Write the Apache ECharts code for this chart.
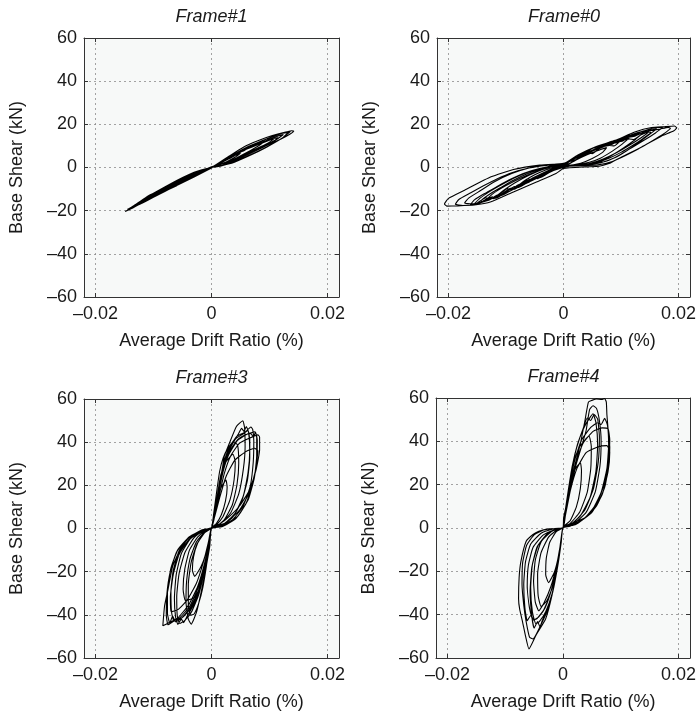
<!DOCTYPE html>
<html>
<head>
<meta charset="utf-8">
<script src="https://cdn.jsdelivr.net/npm/echarts@6/dist/echarts.min.js"></script>
<style>
html, body { margin: 0; padding: 0; background: #ffffff; }
#chart { width: 699px; height: 712px; }
</style>
</head>
<body>
<div id="chart"></div>
<script>
// Panel titles
const frameNames = ['Frame#1', 'Frame#0', 'Frame#3', 'Frame#4'];

// Tick values
const driftTicks = [-0.02, 0, 0.02];
const shearMin = -60;
const shearMax = 60;
const shearStep = 20;

// Axis titles
const driftLabel = 'Average Drift Ratio (%)';
const shearLabel = 'Base Shear (kN)';

// Hysteresis paths: [average drift ratio, base shear kN]
const frame1Loops = [
  [0,0],[0.002,2.8],[0.004,5.6],[0.005,6.6],[0.0042,5.0],[0.002,1.9],[0,0.2],
  [-0.002,-2.4],[-0.004,-5.2],[-0.0055,-7.4],[-0.0047,-5.6],[-0.0025,-2.2],[0,0],
  [0.003,4.0],[0.006,8.6],[0.0085,11.6],[0.0093,12.4],[0.0082,10.2],[0.006,6.8],[0.003,2.6],[0,0.3],
  [-0.003,-3.6],[-0.006,-8.2],[-0.009,-12.4],[-0.0102,-14.0],[-0.009,-11.6],[-0.006,-6.8],[-0.003,-2.6],[0,0],
  [0.002,3.4],[0.004,6.6],[0.0055,7.6],[0.007,10.2],[0.0085,11.0],[0.010,13.2],[0.0115,13.8],[0.0105,11.6],[0.008,8.2],[0.005,4.4],[0.002,1.0],[0,0],
  [-0.002,-1.8],[-0.004,-4.6],[-0.006,-7.0],[-0.0075,-9.8],[-0.009,-10.8],[-0.0105,-13.6],[-0.012,-15.2],[-0.0108,-13.0],[-0.008,-9.6],[-0.005,-5.8],[-0.002,-2.0],[0,0],
  [0.003,4.6],[0.006,8.9],[0.009,12.0],[0.0115,14.6],[0.0124,15.3],[0.0112,13.0],[0.008,8.6],[0.005,4.6],[0.002,1.2],[0,0.1],
  [-0.003,-3.2],[-0.006,-7.6],[-0.009,-12.3],[-0.012,-16.6],[-0.0131,-17.8],[-0.0118,-15.0],[-0.009,-10.6],[-0.006,-6.2],[-0.003,-2.4],[0,-0.1],
  [0.0025,3.6],[0.005,7.8],[0.0075,11.0],[0.010,13.8],[0.0118,15.6],[0.0132,16.2],[0.0122,13.6],[0.0095,9.4],[0.0065,5.4],[0.0035,2.0],[0,0],
  [-0.0025,-2.8],[-0.005,-6.6],[-0.0075,-10.0],[-0.010,-13.6],[-0.0125,-17.2],[-0.0138,-18.8],[-0.0128,-16.8],[-0.0105,-13.8],[-0.008,-10.2],[-0.005,-6.0],[-0.0025,-2.6],[0,0],
  [0.003,4.8],[0.006,9.3],[0.009,12.6],[0.012,15.6],[0.0138,17.0],[0.0142,16.9],[0.0135,15.4],[0.012,13.2],[0.009,9.6],[0.006,6.0],[0.003,2.6],[0,0.2],
  [-0.003,-3.0],[-0.006,-7.4],[-0.009,-12.0],[-0.012,-16.4],[-0.0142,-19.6],[-0.0149,-20.4],[-0.0143,-19.6],[-0.012,-15.8],[-0.009,-11.2],[-0.006,-6.8],[-0.003,-2.8],[0,0],
  [0.003,5.2],[0.0055,9.4],[0.008,12.4],[0.0105,14.8],[0.0128,16.4],[0.0136,16.6],[0.0125,14.2],[0.010,10.2],[0.007,6.2],[0.004,2.8],[0.0015,0.6],[0,0],
  [-0.003,-2.2],[-0.006,-6.0],[-0.009,-10.4],[-0.0115,-14.2],[-0.0135,-17.8],[-0.0145,-19.4],[-0.0138,-18.6],[-0.0115,-15.6],[-0.009,-12.2],[-0.006,-8.4],[-0.003,-4.4],[0,-0.2],
  [0.003,4.2],[0.006,8.4],[0.009,11.6],[0.0108,13.4],[0.0098,11.4],[0.007,7.8],[0.004,4.0],[0,0],
  [-0.004,-5.0],[-0.008,-10.8],[-0.0112,-14.6],[-0.0100,-12.4],[-0.007,-8.0],[-0.003,-3.0],[0,0]
];

const frame0Loops = [
  [0,0],
  [0.002,3.2],[0.004,5.8],[0.006,7.9],[0.0075,9.2],[0.0068,7.0],[0.005,4.2],[0.003,2.0],[0.001,1.0],[-0.001,0.2],[-0.003,-1.8],[-0.005,-4.4],[-0.007,-7.4],[-0.0078,-8.6],[-0.0068,-6.2],[-0.005,-3.4],[-0.003,-1.0],[-0.001,0.6],[0.001,1.8],
  [0.003,4.8],[0.005,7.6],[0.0065,9.0],[0.008,10.8],[0.0095,11.6],[0.0108,13.2],[0.0114,13.6],[0.0102,10.8],[0.0085,7.6],[0.0065,4.4],[0.0045,2.4],[0.002,1.2],[0,0.6],[-0.002,-0.8],[-0.0045,-4.6],[-0.0065,-6.2],[-0.008,-9.0],[-0.0095,-10.4],[-0.0112,-13.0],[-0.0118,-13.6],[-0.0105,-10.8],[-0.0085,-7.2],[-0.006,-3.6],[-0.0035,-0.8],[-0.001,1.0],[0.001,1.8],
  [0.003,5.2],[0.0055,8.6],[0.007,9.6],[0.0085,11.8],[0.010,12.6],[0.0118,14.8],[0.0132,15.6],[0.0138,15.9],[0.0125,13.0],[0.0105,9.2],[0.0085,5.8],[0.0065,3.0],[0.004,1.4],[0.001,0.8],[-0.002,-1.2],[-0.004,-3.8],[-0.006,-6.0],[-0.008,-8.2],[-0.0095,-11.2],[-0.011,-12.4],[-0.0128,-14.8],[-0.0136,-15.3],[-0.0122,-12.0],[-0.010,-8.4],[-0.0075,-5.0],[-0.005,-2.2],[-0.002,0.4],[0,1.4],
  [0.002,4.2],[0.0042,7.4],[0.0058,8.2],[0.0072,10.4],[0.009,11.8],[0.0102,12.2],[0.0118,14.6],[0.013,15.2],[0.0142,16.8],[0.0148,16.6],[0.0135,13.8],[0.0115,10.4],[0.0092,6.8],[0.0068,3.8],[0.0045,1.8],[0.002,1.0],[0,0.4],
  [-0.0022,-1.8],[-0.004,-4.6],[-0.0048,-4.2],[-0.0062,-6.8],[-0.0078,-9.2],[-0.0085,-8.8],[-0.0102,-11.8],[-0.0118,-14.2],[-0.0124,-13.6],[-0.0138,-15.8],[-0.0144,-15.6],[-0.013,-12.6],[-0.011,-9.4],[-0.0088,-6.0],[-0.0064,-3.0],[-0.004,-0.8],[-0.0015,0.8],[0,1.2],
  [0.0025,5.0],[0.005,8.8],[0.0065,9.8],[0.008,11.8],[0.0095,12.8],[0.011,14.6],[0.0125,15.4],[0.014,17.0],[0.0155,17.6],[0.0162,17.9],[0.0148,15.0],[0.013,11.4],[0.011,7.8],[0.009,4.6],[0.0065,2.2],[0.004,1.2],[0.001,0.6],[-0.002,-1.6],[-0.004,-4.4],[-0.006,-6.4],[-0.008,-9.2],[-0.010,-11.8],[-0.0115,-12.8],[-0.013,-15.2],[-0.0148,-16.6],[-0.0157,-17.3],[-0.0145,-14.2],[-0.0125,-10.6],[-0.010,-6.8],[-0.0075,-3.6],[-0.005,-1.2],[-0.002,0.8],[0,1.6],
  [0.002,4.4],[0.004,6.8],[0.005,6.4],[0.0065,9.4],[0.008,10.2],[0.0088,10.0],[0.010,12.4],[0.0115,13.2],[0.0122,13.0],[0.0135,15.2],[0.0148,16.4],[0.0152,16.2],[0.0138,13.4],[0.012,10.2],[0.010,7.0],[0.008,4.4],[0.0055,2.0],[0.003,1.0],[0,0.4],
  [-0.002,-1.4],[-0.004,-3.6],[-0.0055,-5.8],[-0.0062,-5.2],[-0.0078,-8.2],[-0.009,-10.4],[-0.0098,-9.8],[-0.0112,-12.6],[-0.0128,-14.6],[-0.0135,-14.0],[-0.015,-16.4],[-0.0162,-17.2],[-0.0155,-15.0],[-0.0138,-12.2],[-0.0118,-9.2],[-0.0095,-5.8],[-0.007,-2.8],[-0.004,-0.4],[-0.001,1.0],[0.001,1.6],
  [0.0025,5.4],[0.0055,9.4],[0.007,10.6],[0.009,12.4],[0.0105,13.6],[0.012,15.4],[0.0138,16.8],[0.0155,18.2],[0.0168,18.6],[0.0174,18.8],[0.016,16.0],[0.014,12.6],[0.012,9.4],[0.010,6.2],[0.0078,3.2],[0.005,1.6],[0.002,0.9],[-0.001,-0.6],[-0.0035,-3.6],[-0.006,-6.8],[-0.0085,-9.6],[-0.0105,-12.6],[-0.0125,-14.4],[-0.0145,-16.2],[-0.016,-16.8],[-0.0172,-16.4],[-0.0165,-14.2],[-0.0145,-10.8],[-0.012,-6.6],[-0.009,-2.8],[-0.006,-0.2],[-0.003,1.2],[0,1.9],
  [0.003,5.6],[0.0045,6.8],[0.006,9.0],[0.0075,10.4],[0.0085,10.8],[0.0095,12.4],[0.011,13.8],[0.0125,14.6],[0.014,16.4],[0.0155,17.2],[0.0168,17.8],[0.0182,18.6],[0.0186,18.2],[0.0172,15.2],[0.0152,12.0],[0.013,8.6],[0.0108,5.6],[0.0085,2.8],[0.006,1.2],[0.003,0.8],[0,0.6],
  [-0.0025,-2.0],[-0.0045,-5.2],[-0.0052,-4.6],[-0.0068,-7.4],[-0.0085,-10.0],[-0.0092,-9.6],[-0.0108,-12.4],[-0.0122,-14.4],[-0.0128,-13.8],[-0.0145,-16.4],[-0.016,-17.4],[-0.0175,-17.6],[-0.0188,-17.0],[-0.0182,-14.8],[-0.0162,-11.8],[-0.014,-8.6],[-0.0115,-5.2],[-0.009,-2.4],[-0.006,-0.2],[-0.003,1.0],[0,1.6],
  [0.0025,5.8],[0.0056,9.6],[0.009,12.6],[0.0124,16.4],[0.0153,18.5],[0.0175,18.9],[0.0193,19.2],[0.0197,18.4],[0.0192,17.0],[0.017,14.5],[0.0136,9.5],[0.0101,4.9],[0.0079,1.8],[0.0062,0.6],[0.0039,0.3],[0,-0.5],[-0.0013,-2.8],[-0.0047,-6.7],[-0.0087,-11.3],[-0.0126,-15.9],[-0.0155,-17.4],[-0.0185,-17.8],[-0.0203,-17.9],[-0.0207,-16.9],[-0.0200,-14.3],[-0.0172,-10.5],[-0.0126,-4.3],[-0.0087,-0.9],[-0.0041,1.1],[0,1.8]
];

const frame3Loops = [
  [0,0],
  [0.0004,5.2],[0.0009,12.8],[0.0016,18.6],[0.0025,22.4],[0.0027,19.0],[0.0024,12.6],[0.0017,6.4],[0.0008,2.2],[0,0.4],
  [-0.0004,-4.6],[-0.0010,-11.8],[-0.0018,-17.6],[-0.0029,-22.2],[-0.0033,-19.4],[-0.0031,-13.2],[-0.0024,-6.8],[-0.0012,-2.0],[0,0.2],
  [0.0005,6.8],[0.0010,15.2],[0.0016,24.8],[0.0024,30.6],[0.0037,34.4],[0.0041,30.8],[0.0039,22.6],[0.0032,13.4],[0.0020,5.6],[0.0008,1.6],[0,0.2],
  [-0.0004,-6.4],[-0.0010,-16.0],[-0.0018,-26.4],[-0.0030,-32.0],[-0.0045,-33.4],[-0.0049,-28.0],[-0.0046,-18.6],[-0.0038,-10.0],[-0.0024,-4.0],[-0.0010,-0.8],[0,0.3],
  [0.0004,7.4],[0.0009,17.2],[0.0014,26.4],[0.0020,32.6],[0.0028,37.0],[0.0038,40.2],[0.0045,38.6],[0.0047,30.2],[0.0044,20.4],[0.0036,11.0],[0.0022,4.0],[0.0008,0.8],[0,0.2],
  [-0.0004,-7.8],[-0.0009,-17.8],[-0.0015,-27.4],[-0.0022,-34.6],[-0.0030,-39.6],[-0.0036,-40.2],[-0.0040,-35.4],[-0.0040,-25.8],[-0.0035,-15.6],[-0.0025,-7.2],[-0.0012,-2.0],[0,0.2],
  [0.0005,5.7],[0.0011,16.5],[0.0017,24.2],[0.0022,33.4],[0.0031,39.6],[0.0043,47.3],[0.0054,49.9],[0.0057,46.8],[0.0058,38.0],[0.0055,27.6],[0.0047,16.0],[0.0033,7.2],[0.0016,2.4],[0,0.2],
  [-0.0003,-8.2],[-0.0009,-17.4],[-0.0018,-29.7],[-0.0026,-38.9],[-0.0035,-44.3],[-0.0040,-42.0],[-0.0044,-34.2],[-0.0043,-24.6],[-0.0037,-14.0],[-0.0026,-6.2],[-0.0012,-1.6],[0,0.3],
  [0.0004,5.6],[0.0010,14.8],[0.0016,23.6],[0.0023,31.4],[0.0033,37.6],[0.0046,43.6],[0.0052,46.4],[0.0056,45.0],[0.0060,47.2],[0.0064,44.6],[0.0066,36.2],[0.0063,25.8],[0.0055,15.2],[0.0040,6.8],[0.0020,1.8],[0,0.2],
  [-0.0004,-6.6],[-0.0011,-17.0],[-0.0020,-27.6],[-0.0031,-35.4],[-0.0042,-40.6],[-0.0048,-43.6],[-0.0052,-42.0],[-0.0058,-44.4],[-0.0062,-41.0],[-0.0064,-32.4],[-0.0061,-21.6],[-0.0052,-11.6],[-0.0036,-4.6],[-0.0016,-0.8],[0,0.2],
  [0.0006,7.4],[0.0013,18.6],[0.0020,29.6],[0.0030,37.4],[0.0044,42.8],[0.0058,44.6],[0.0063,45.4],[0.0066,41.2],[0.0066,32.8],[0.0062,22.4],[0.0052,12.6],[0.0036,5.0],[0.0016,1.2],[0,0],
  [-0.0004,-7.0],[-0.0012,-19.2],[-0.0022,-30.6],[-0.0034,-38.4],[-0.0046,-42.6],[-0.0055,-44.0],[-0.0059,-40.6],[-0.0060,-31.6],[-0.0056,-21.0],[-0.0046,-11.2],[-0.0030,-4.2],[-0.0012,-0.8],[0,0.4],
  [0.0005,6.2],[0.0012,17.4],[0.0019,28.0],[0.0029,36.2],[0.0042,41.6],[0.0057,44.2],[0.0068,47.0],[0.0071,46.0],[0.0073,40.4],[0.0072,30.6],[0.0067,19.8],[0.0055,10.6],[0.0036,4.0],[0.0014,0.8],[0,0.1],
  [-0.0004,-7.6],[-0.0012,-18.4],[-0.0022,-28.6],[-0.0035,-36.6],[-0.0050,-41.2],[-0.0065,-42.6],[-0.0069,-38.6],[-0.0070,-29.2],[-0.0066,-19.4],[-0.0056,-10.4],[-0.0038,-4.0],[-0.0016,-0.6],[0,0.3],
  [0.0005,6.0],[0.0012,16.6],[0.0020,27.6],[0.0031,35.8],[0.0046,41.4],[0.0060,43.6],[0.0068,44.0],[0.0072,42.4],[0.0076,44.6],[0.0079,41.0],[0.0078,31.6],[0.0072,21.4],[0.0060,11.8],[0.0042,4.6],[0.0018,0.8],[0,0.1],
  [-0.0004,-6.2],[-0.0012,-17.6],[-0.0022,-28.4],[-0.0036,-36.4],[-0.0052,-41.6],[-0.0062,-43.2],[-0.0067,-40.6],[-0.0072,-43.8],[-0.0076,-39.4],[-0.0076,-29.0],[-0.0070,-18.4],[-0.0058,-9.8],[-0.0038,-3.8],[-0.0014,-0.6],[0,0.2],
  [0.0005,5.8],[0.0012,16.0],[0.0020,26.4],[0.0030,34.4],[0.0045,40.8],[0.0062,43.8],[0.0075,44.8],[0.0078,42.0],[0.0078,33.8],[0.0074,23.6],[0.0064,13.8],[0.0046,5.8],[0.0022,1.4],[0,0],
  [-0.0004,-6.4],[-0.0012,-16.8],[-0.0023,-27.4],[-0.0037,-35.8],[-0.0054,-41.2],[-0.0068,-43.4],[-0.0075,-44.6],[-0.0078,-40.2],[-0.0077,-30.4],[-0.0071,-19.8],[-0.0060,-10.8],[-0.0040,-4.4],[-0.0016,-0.8],[0,0.4],
  [0.0005,5.4],[0.0013,15.0],[0.0022,25.4],[0.0033,33.6],[0.0048,39.4],[0.0065,41.8],[0.0080,43.4],[0.0083,42.4],[0.0083,36.5],[0.0077,27.3],[0.0066,18.0],[0.0048,10.3],[0.0025,4.2],[0.0008,1.1],[0,0.2],
  [-0.0004,-6.0],[-0.0012,-16.2],[-0.0024,-27.0],[-0.0040,-35.6],[-0.0058,-41.4],[-0.0073,-43.6],[-0.0084,-45.1],[-0.0081,-35.9],[-0.0075,-28.2],[-0.0067,-17.4],[-0.0055,-10.5],[-0.0038,-5.1],[-0.0015,-1.2],[0,0.3],
  [0.0005,5.0],[0.0014,14.2],[0.0025,24.0],[0.0040,31.6],[0.0058,35.4],[0.0074,37.2],[0.0080,36.0],[0.0076,27.0],[0.0066,17.0],[0.0048,8.4],[0.0024,2.6],[0,0.2],
  [-0.0005,-6.0],[-0.0014,-15.6],[-0.0026,-25.4],[-0.0042,-33.2],[-0.0058,-37.6],[-0.0070,-38.6],[-0.0071,-32.0],[-0.0066,-21.4],[-0.0056,-12.0],[-0.0038,-4.8],[-0.0016,-1.0],[0,0]
];

const frame4Loops = [
  [0,0],
  [0.0003,6.0],[0.0008,15.2],[0.0014,22.8],[0.0022,27.6],[0.0030,30.2],[0.0032,26.4],[0.0030,18.2],[0.0023,9.6],[0.0012,3.2],[0,0.4],
  [-0.0003,-5.4],[-0.0008,-13.2],[-0.0015,-20.4],[-0.0025,-25.2],[-0.0030,-21.6],[-0.0029,-14.0],[-0.0023,-6.6],[-0.0012,-1.8],[0,0.2],
  [0.0004,7.2],[0.0010,18.6],[0.0017,29.4],[0.0028,37.2],[0.0045,42.4],[0.0049,37.6],[0.0048,27.2],[0.0042,16.6],[0.0029,7.4],[0.0012,2.0],[0,0.3],
  [-0.0004,-7.0],[-0.0010,-17.6],[-0.0018,-27.2],[-0.0028,-33.6],[-0.0038,-36.2],[-0.0043,-31.4],[-0.0044,-21.2],[-0.0038,-11.4],[-0.0025,-4.2],[-0.0010,-0.8],[0,0.2],
  [0.0004,7.8],[0.0011,20.4],[0.0019,32.2],[0.0029,41.6],[0.0040,48.2],[0.0052,52.7],[0.0057,48.6],[0.0060,38.4],[0.0057,26.2],[0.0047,14.2],[0.0030,5.6],[0.0012,1.4],[0,0.2],
  [-0.0004,-8.0],[-0.0011,-19.8],[-0.0019,-30.4],[-0.0030,-38.6],[-0.0041,-43.2],[-0.0047,-44.2],[-0.0053,-38.8],[-0.0056,-27.6],[-0.0053,-16.8],[-0.0043,-8.0],[-0.0026,-2.6],[-0.0010,-0.4],[0,0.2],
  [0.0003,6.4],[0.0009,17.2],[0.0016,28.6],[0.0025,38.6],[0.0035,46.0],[0.0042,50.8],[0.0048,49.6],[0.0054,52.4],[0.0060,50.2],[0.0063,42.0],[0.0061,30.4],[0.0053,18.4],[0.0038,8.4],[0.0016,1.8],[0,0.2],
  [-0.0004,-7.4],[-0.0010,-18.8],[-0.0018,-29.8],[-0.0028,-37.8],[-0.0036,-42.8],[-0.0040,-45.6],[-0.0044,-43.2],[-0.0050,-46.2],[-0.0054,-40.8],[-0.0057,-29.4],[-0.0054,-18.2],[-0.0045,-8.8],[-0.0028,-2.8],[-0.0010,-0.4],[0,0.2],
  [0.0001,4.7],[0.0010,15.5],[0.0021,29.5],[0.0030,38.8],[0.0038,49.6],[0.0044,58.1],[0.0050,58.9],[0.0058,59.6],[0.0067,59.3],[0.0072,59.8],[0.0075,58.1],[0.0076,52.4],[0.0078,45.8],[0.0081,37.2],[0.0078,27.6],[0.0072,18.6],[0.0058,10.2],[0.0038,4.7],[0.0010,1.6],[0,0.2],
  [-0.0004,-6.2],[-0.0010,-18.6],[-0.0019,-31.0],[-0.0030,-41.9],[-0.0047,-49.6],[-0.0059,-55.8],[-0.0065,-49.8],[-0.0070,-43.4],[-0.0075,-37.6],[-0.0077,-32.6],[-0.0076,-22.8],[-0.0073,-15.5],[-0.0064,-6.2],[-0.0052,-3.0],[-0.0042,-1.5],[-0.0024,-0.4],[0,0],
  [0.0004,5.6],[0.0012,16.4],[0.0022,28.6],[0.0033,38.4],[0.0040,45.0],[0.0046,54.6],[0.0052,56.4],[0.0058,55.2],[0.0063,49.6],[0.0066,40.2],[0.0064,28.6],[0.0056,16.8],[0.0040,7.2],[0.0018,1.8],[0,0.2],
  [-0.0003,-6.4],[-0.0009,-17.4],[-0.0017,-28.4],[-0.0027,-38.0],[-0.0040,-45.6],[-0.0052,-51.2],[-0.0058,-50.4],[-0.0064,-43.0],[-0.0068,-35.6],[-0.0071,-26.0],[-0.0070,-16.2],[-0.0063,-8.0],[-0.0050,-3.2],[-0.0030,-0.6],[0,0],
  [0.0004,7.0],[0.0011,19.0],[0.0020,31.0],[0.0032,40.6],[0.0048,46.4],[0.0060,48.6],[0.0066,47.8],[0.0072,50.6],[0.0077,47.4],[0.0079,38.4],[0.0076,27.4],[0.0066,16.4],[0.0048,7.0],[0.0022,1.6],[0,0.1],
  [-0.0004,-6.8],[-0.0011,-17.6],[-0.0020,-28.4],[-0.0031,-36.8],[-0.0042,-41.0],[-0.0050,-42.4],[-0.0056,-40.4],[-0.0062,-42.8],[-0.0066,-37.0],[-0.0068,-26.2],[-0.0065,-15.6],[-0.0056,-7.4],[-0.0038,-2.4],[-0.0014,-0.2],[0,0],
  [0.0004,6.8],[0.0012,18.8],[0.0022,30.4],[0.0035,39.2],[0.0052,44.6],[0.0068,46.2],[0.0078,45.8],[0.0081,40.6],[0.0079,31.2],[0.0072,20.6],[0.0058,11.2],[0.0036,4.2],[0.0012,0.8],[0,0.1],
  [-0.0004,-7.2],[-0.0011,-18.2],[-0.0021,-29.4],[-0.0033,-37.6],[-0.0045,-41.8],[-0.0052,-42.6],[-0.0058,-37.0],[-0.0062,-27.0],[-0.0060,-17.2],[-0.0052,-9.0],[-0.0034,-3.2],[-0.0012,-0.6],[0,0.1],
  [0.0004,6.0],[0.0012,16.6],[0.0024,27.4],[0.0040,34.8],[0.0060,37.4],[0.0076,38.0],[0.0081,35.2],[0.0078,26.0],[0.0068,15.6],[0.0050,7.2],[0.0024,2.0],[0,0.1],
  [-0.0004,-6.8],[-0.0011,-17.0],[-0.0021,-27.0],[-0.0033,-34.6],[-0.0042,-38.2],[-0.0048,-34.2],[-0.0051,-24.6],[-0.0048,-14.8],[-0.0038,-6.4],[-0.0020,-1.6],[0,0]
];

const framePaths = [frame1Loops, frame0Loops, frame3Loops, frame4Loops];

// Plot boxes, in pixels
const boxes = [
  { left: 84,  top: 38,  width: 255, height: 259 },
  { left: 437, top: 38,  width: 254, height: 259 },
  { left: 84,  top: 399, width: 255, height: 260 },
  { left: 436, top: 398, width: 255, height: 260 }
];

const FONT = '"Liberation Sans", Arial, Helvetica, sans-serif';
const TEXT = '#1a1a1a';
const dash = (v) => (v < 0 ? '\u2013' + Math.abs(v) : String(v));

const gridLine = { show: true, lineStyle: { color: '#8c8c8c', width: 0.8, type: [2, 3] } };
const frameLine = { show: true, onZero: false, lineStyle: { color: '#333333', width: 1 } };

const grids = [], xAxes = [], yAxes = [], series = [], titles = [];

boxes.forEach((b, i) => {
  grids.push({
    left: b.left, top: b.top, width: b.width, height: b.height,
    show: true, backgroundColor: '#f7f9f8', borderWidth: 0, containLabel: false
  });

  titles.push({
    text: frameNames[i],
    left: b.left + b.width / 2,
    top: b.top - 30,
    textAlign: 'center',
    padding: 0,
    textStyle: { fontFamily: FONT, fontSize: 18, fontStyle: 'italic', fontWeight: 'normal', color: TEXT }
  });

  // bottom drift axis with labels
  xAxes.push({
    type: 'value', gridIndex: i, position: 'bottom',
    min: -0.022, max: 0.022,
    name: driftLabel, nameLocation: 'middle', nameGap: 35,
    nameTextStyle: { fontFamily: FONT, fontSize: 18, color: TEXT },
    axisLine: frameLine,
    axisTick: { show: true, inside: true, length: 4, customValues: driftTicks, lineStyle: { color: '#333' } },
    axisLabel: { show: true, margin: 8, customValues: driftTicks, formatter: dash,
                 fontFamily: FONT, fontSize: 18, color: TEXT },
    splitLine: gridLine
  });
  // top edge of the box
  xAxes.push({
    type: 'value', gridIndex: i, position: 'top',
    min: -0.022, max: 0.022,
    axisLine: frameLine,
    axisTick: { show: true, inside: true, length: 4, customValues: driftTicks, lineStyle: { color: '#333' } },
    axisLabel: { show: false },
    splitLine: { show: false }
  });

  // left shear axis with labels
  yAxes.push({
    type: 'value', gridIndex: i, position: 'left',
    min: shearMin, max: shearMax, interval: shearStep,
    name: shearLabel, nameLocation: 'middle', nameGap: 58,
    nameTextStyle: { fontFamily: FONT, fontSize: 18, color: TEXT },
    axisLine: frameLine,
    axisTick: { show: true, inside: true, length: 4, lineStyle: { color: '#333' } },
    axisLabel: { show: true, margin: 7, formatter: dash, fontFamily: FONT, fontSize: 18, color: TEXT },
    splitLine: gridLine
  });
  // right edge of the box
  yAxes.push({
    type: 'value', gridIndex: i, position: 'right',
    min: shearMin, max: shearMax, interval: shearStep,
    axisLine: frameLine,
    axisTick: { show: true, inside: true, length: 4, lineStyle: { color: '#333' } },
    axisLabel: { show: false },
    splitLine: { show: false }
  });

  series.push({
    type: 'line',
    xAxisIndex: 2 * i,
    yAxisIndex: 2 * i,
    data: framePaths[i],
    showSymbol: false,
    symbol: 'none',
    smooth: 0.15,
    clip: true,
    lineStyle: { color: '#000000', width: 1.1 },
    silent: true
  });
});

const chart = echarts.init(document.getElementById('chart'), null, { renderer: 'canvas' });
chart.setOption({
  animation: false,
  backgroundColor: '#ffffff',
  title: titles,
  grid: grids,
  xAxis: xAxes,
  yAxis: yAxes,
  series: series
});
</script>
</body>
</html>
